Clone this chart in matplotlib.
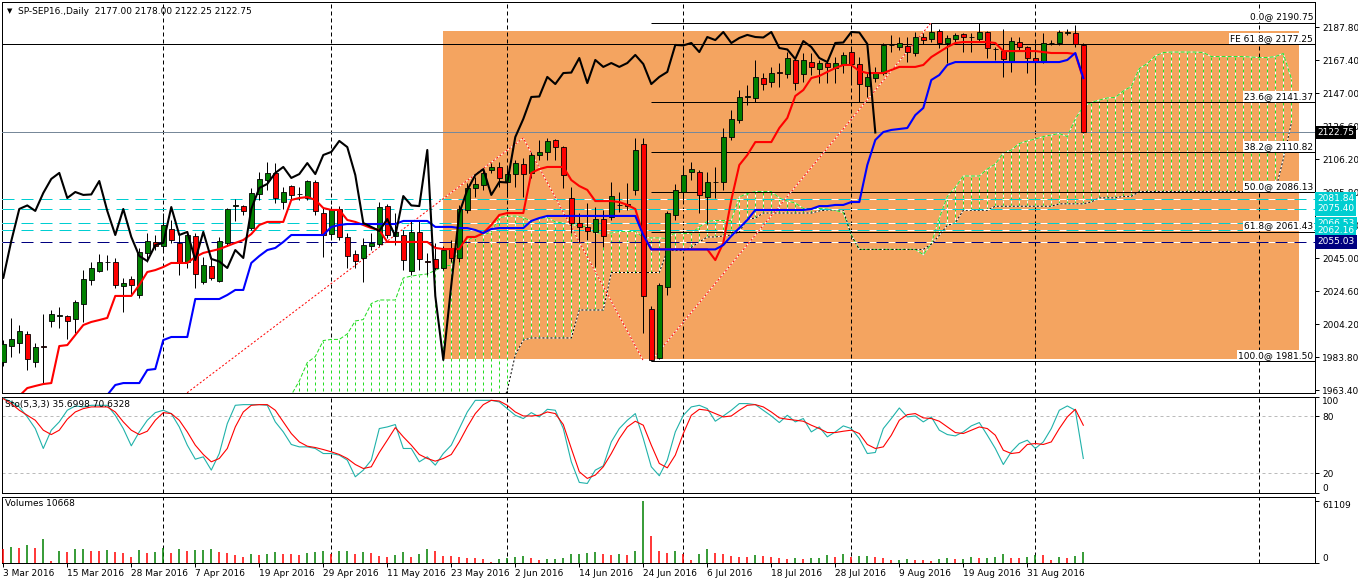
import numpy as np
import matplotlib.pyplot as plt
import matplotlib.transforms as mtransforms
from matplotlib.patches import Rectangle

plt.rcParams['font.family'] = ['DejaVu Sans']
plt.rcParams['font.size'] = 6.5

# ---------------- data ----------------
header = "SP-SEP16.,Daily  2177.00 2178.00 2122.25 2122.75"
stoch_title = "Sto(5,3,3) 35.6998 70.6328"
volume_title = "Volumes 10668"
date_labels = ["3 Mar 2016", "15 Mar 2016", "28 Mar 2016", "7 Apr 2016", "19 Apr 2016",
               "29 Apr 2016", "11 May 2016", "23 May 2016", "2 Jun 2016", "14 Jun 2016",
               "24 Jun 2016", "6 Jul 2016", "18 Jul 2016", "28 Jul 2016", "9 Aug 2016",
               "19 Aug 2016", "31 Aug 2016"]
date_label_bars = [0, 8, 16, 24, 32, 40, 48, 56, 64, 72, 80, 88, 96, 104, 112, 120, 128]
month_start_bars = [20, 41, 63, 85, 106, 129, 157]

opens = [1980.7, 1990.6, 1992.5, 1998.1, 1980.7, 1990.6, 2006.1, 2009.2, 2009.2, 2007.3,
         2016.6, 2031.5, 2037.0, 2042.6, 2042.6, 2027.8, 2032.1, 2022.2, 2048.2, 2055.0,
         2052.5, 2063.0, 2054.4, 2042.6, 2058.7, 2030.2, 2040.1, 2030.8, 2054.4, 2077.2,
         2077.2, 2063.6, 2084.7, 2093.3, 2097.7, 2079.7, 2089.6, 2084.7, 2082.2, 2092.1,
         2072.9, 2059.9, 2075.4, 2058.1, 2047.5, 2045.1, 2052.5, 2053.7, 2077.2, 2058.7,
         2059.3, 2037.0, 2061.2, 2043.2, 2044.5, 2038.9, 2051.3, 2045.1, 2074.8, 2088.4,
         2090.2, 2099.5, 2101.4, 2092.1, 2097.0, 2103.2, 2097.7, 2108.8, 2110.7, 2118.1,
         2113.7, 2082.2, 2066.7, 2064.3, 2061.2, 2069.2, 2070.4, 2077.9, 2078.5, 2087.1,
         2115.6, 2013.5, 1983.2, 2027.1, 2071.7, 2085.9, 2098.3, 2098.3, 2082.8, 2092.1,
         2092.1, 2119.9, 2130.5, 2144.7, 2144.1, 2156.4, 2154.0, 2160.2, 2158.9, 2167.6,
         2158.9, 2166.3, 2162.0, 2165.7, 2162.6, 2165.1, 2172.5, 2165.1, 2151.5, 2156.4,
         2159.5, 2176.9, 2175.6, 2176.2, 2171.9, 2181.8, 2180.6, 2185.5, 2178.1, 2180.6,
         2183.7, 2181.8, 2180.6, 2184.9, 2174.4, 2173.1, 2166.3, 2178.7, 2175.6, 2168.8,
         2166.3, 2178.1, 2178.1, 2184.3, 2184.3, 2177.0]
highs = [1994.3, 2008.0, 2003.6, 1999.9, 1992.5, 2010.4, 2012.9, 2014.8, 2009.8, 2019.1,
         2037.7, 2042.6, 2047.5, 2046.9, 2045.1, 2032.7, 2033.9, 2051.3, 2060.5, 2059.3,
         2072.9, 2068.6, 2060.5, 2060.5, 2060.5, 2045.7, 2045.7, 2058.1, 2076.0, 2081.6,
         2077.9, 2088.4, 2098.3, 2104.5, 2103.8, 2089.0, 2090.2, 2089.0, 2093.3, 2093.3,
         2076.0, 2077.2, 2077.2, 2060.5, 2050.0, 2057.5, 2060.5, 2079.7, 2078.5, 2072.9,
         2062.4, 2068.6, 2068.6, 2048.2, 2054.4, 2052.5, 2056.2, 2077.9, 2091.5, 2095.2,
         2099.5, 2103.8, 2104.5, 2100.8, 2105.7, 2107.0, 2110.7, 2118.1, 2119.3, 2118.7,
         2114.4, 2089.0, 2072.9, 2079.1, 2076.6, 2074.8, 2092.1, 2085.9, 2091.5, 2119.3,
         2119.3, 2015.4, 2029.6, 2074.2, 2090.9, 2101.4, 2104.5, 2099.5, 2098.3, 2101.4,
         2125.5, 2136.6, 2149.0, 2152.1, 2167.6, 2159.5, 2163.3, 2165.7, 2172.5, 2169.4,
         2171.9, 2171.9, 2167.6, 2167.6, 2169.4, 2172.5, 2175.6, 2169.4, 2160.2, 2163.3,
         2178.1, 2183.1, 2181.8, 2181.8, 2184.9, 2184.3, 2190.75, 2186.8, 2183.1, 2184.3,
         2184.3, 2184.3, 2190.5, 2185.5, 2175.6, 2186.8, 2181.8, 2181.8, 2176.2, 2178.1,
         2184.3, 2180.0, 2186.1, 2186.8, 2189.2, 2178.0]
lows = [1978.3, 1983.8, 1986.3, 1975.8, 1977.6, 1967.7, 2002.4, 2001.8, 1995.0, 1998.7,
        2005.5, 2028.4, 2036.4, 2037.7, 2026.5, 2011.7, 2022.2, 2020.3, 2042.6, 2050.0,
        2050.0, 2054.4, 2034.6, 2038.9, 2026.5, 2029.0, 2031.5, 2030.2, 2052.5, 2068.0,
        2071.7, 2062.4, 2081.0, 2087.2, 2079.1, 2075.4, 2081.0, 2081.0, 2081.0, 2071.7,
        2045.7, 2056.2, 2056.2, 2038.9, 2038.9, 2030.2, 2050.0, 2052.5, 2057.5, 2053.1,
        2037.7, 2034.6, 2037.7, 2034.6, 2037.7, 2037.7, 2042.6, 2042.6, 2072.9, 2082.8,
        2087.2, 2097.7, 2089.0, 2082.8, 2089.0, 2082.8, 2094.6, 2105.7, 2105.7, 2105.7,
        2088.4, 2060.5, 2055.0, 2056.2, 2039.5, 2051.9, 2068.6, 2073.5, 2074.8, 2084.1,
        1998.7, 1981.5, 1982.6, 2022.2, 2068.6, 2081.0, 2093.3, 2072.9, 2066.1, 2082.2,
        2087.2, 2118.1, 2128.6, 2139.7, 2141.6, 2149.0, 2150.9, 2150.9, 2156.4, 2149.0,
        2154.0, 2158.3, 2153.4, 2153.4, 2153.4, 2159.5, 2153.4, 2141.6, 2144.7, 2154.0,
        2158.3, 2172.5, 2173.8, 2166.3, 2170.1, 2177.5, 2178.7, 2175.0, 2165.7, 2178.1,
        2172.5, 2172.5, 2178.7, 2168.8, 2167.6, 2157.1, 2160.2, 2173.8, 2159.5, 2154.0,
        2165.7, 2176.9, 2176.9, 2183.1, 2175.6, 2122.25]
closes = [1991.9, 1995.0, 1999.9, 1982.6, 1990.0, 1990.3, 2010.4, 2009.5, 2006.1, 2017.9,
          2032.1, 2038.9, 2042.6, 2042.9, 2028.4, 2029.6, 2028.4, 2048.8, 2055.6, 2052.5,
          2065.5, 2056.2, 2042.0, 2059.3, 2035.2, 2040.7, 2032.7, 2055.6, 2075.4, 2077.6,
          2074.2, 2085.3, 2094.0, 2097.7, 2082.2, 2085.9, 2084.1, 2084.4, 2092.7, 2074.2,
          2059.3, 2075.4, 2058.1, 2046.3, 2043.2, 2053.1, 2054.4, 2076.6, 2059.3, 2061.2,
          2043.8, 2061.2, 2044.5, 2042.9, 2038.9, 2050.0, 2045.1, 2075.4, 2088.4, 2090.9,
          2097.7, 2101.4, 2094.6, 2097.0, 2103.8, 2097.0, 2108.8, 2110.7, 2117.5, 2113.7,
          2096.4, 2066.7, 2064.3, 2061.8, 2069.2, 2058.7, 2083.4, 2077.6, 2077.2, 2111.9,
          2021.6, 1982.0, 2028.4, 2072.9, 2087.2, 2096.4, 2100.1, 2084.1, 2092.1, 2091.8,
          2119.9, 2131.1, 2144.7, 2145.0, 2157.1, 2152.7, 2159.5, 2159.8, 2168.8, 2153.3,
          2167.6, 2163.3, 2165.7, 2163.3, 2165.7, 2170.7, 2165.1, 2152.7, 2157.1, 2160.2,
          2176.9, 2176.6, 2178.1, 2172.5, 2181.8, 2179.9, 2184.9, 2178.1, 2181.2, 2183.1,
          2181.8, 2181.5, 2184.9, 2175.0, 2174.1, 2168.2, 2179.3, 2175.6, 2168.8, 2166.3,
          2178.1, 2178.4, 2184.9, 2184.6, 2177.5, 2122.75]

tenkan = [1955.4, 1957.2, 1959.7, 1964.6, 1965.9, 1967.1, 1967.7, 1990.6, 1991.2, 1997.4,
          2003.6, 2005.5, 2006.7, 2008.0, 2021.6, 2021.6, 2021.6, 2028.4, 2036.4, 2037.6,
          2039.5, 2042.0, 2042.0, 2042.0, 2045.7, 2048.2, 2049.4, 2050.6, 2052.5, 2054.4,
          2056.2, 2059.9, 2065.5, 2067.4, 2067.4, 2067.4, 2081.0, 2082.2, 2082.8, 2081.0,
          2076.0, 2074.8, 2074.8, 2068.6, 2067.4, 2065.5, 2063.6, 2062.4, 2055.0, 2055.0,
          2055.0, 2055.0, 2055.0, 2055.0, 2051.3, 2050.6, 2050.6, 2050.6, 2058.1, 2058.1,
          2060.5, 2065.5, 2071.7, 2072.9, 2072.9, 2072.9, 2097.7, 2100.1, 2101.4, 2101.4,
          2101.4, 2093.3, 2089.6, 2087.2, 2080.3, 2080.3, 2080.3, 2079.7, 2077.9, 2075.4,
          2059.3, 2050.4, 2050.4, 2050.4, 2050.4, 2050.4, 2050.4, 2050.4, 2050.4, 2043.8,
          2054.4, 2081.0, 2102.6, 2108.8, 2116.8, 2116.8, 2116.8, 2125.5, 2131.7, 2145.3,
          2149.0, 2156.4, 2157.7, 2160.2, 2162.6, 2164.5, 2164.5, 2160.8, 2159.5, 2159.5,
          2159.5, 2161.4, 2163.3, 2163.3, 2163.3, 2164.5, 2169.4, 2172.5, 2175.6, 2178.1,
          2178.7, 2178.7, 2178.7, 2178.7, 2178.1, 2173.1, 2173.1, 2173.1, 2173.1, 2173.1,
          2172.5, 2171.9, 2171.9, 2171.9, 2171.3, 2155.8]
kijun = [1901.5, 1902.8, 1904.6, 1904.6, 1904.6, 1905.2, 1909.0, 1913.9, 1913.9, 1915.8,
         1917.0, 1932.5, 1954.1, 1960.3, 1966.5, 1967.7, 1967.7, 1967.7, 1975.8, 1976.4,
         1994.3, 1996.2, 1996.2, 1996.2, 2019.7, 2019.7, 2019.7, 2019.7, 2022.2, 2025.3,
         2025.3, 2042.0, 2046.3, 2050.0, 2051.3, 2055.0, 2059.3, 2059.3, 2059.3, 2059.3,
         2059.3, 2064.3, 2065.5, 2066.1, 2066.1, 2066.1, 2066.1, 2066.1, 2066.1, 2066.1,
         2068.0, 2068.0, 2068.0, 2068.0, 2064.3, 2064.3, 2064.3, 2063.6, 2063.6, 2062.4,
         2060.5, 2063.0, 2063.6, 2063.6, 2063.6, 2063.6, 2068.0, 2069.8, 2071.1, 2071.1,
         2071.1, 2071.1, 2071.1, 2071.1, 2071.1, 2071.1, 2071.1, 2071.1, 2071.1, 2071.1,
         2059.3, 2050.4, 2050.4, 2050.4, 2050.4, 2050.4, 2050.4, 2050.4, 2050.4, 2050.4,
         2053.1, 2058.7, 2063.6, 2068.6, 2074.8, 2074.8, 2074.8, 2074.8, 2074.8, 2074.8,
         2074.8, 2075.4, 2077.2, 2077.2, 2077.9, 2077.9, 2079.7, 2079.7, 2102.6, 2118.1,
         2123.0, 2124.3, 2124.9, 2125.5, 2133.5, 2137.9, 2155.2, 2158.3, 2164.5, 2166.3,
         2166.3, 2166.3, 2166.3, 2166.3, 2166.3, 2166.3, 2166.3, 2166.3, 2166.3, 2166.3,
         2166.3, 2166.3, 2166.3, 2167.6, 2171.9, 2156.4]

# senkou spans, first value at bar 30, last at bar 161 (26 bars ahead)
span_first_bar = 30
span_a = [1935.3, 1936.2, 1938.3, 1952.3, 1952.6, 1956.6, 1960.3, 1969.0, 1980.4, 1984.1,
          1994.0, 1994.7, 1994.7, 1998.1, 2006.1, 2007.0, 2016.9, 2019.1, 2019.1, 2019.1,
          2032.7, 2033.9, 2034.6, 2035.2, 2037.4, 2039.8, 2040.7, 2051.0, 2055.9, 2058.7,
          2059.3, 2061.2, 2070.1, 2070.8, 2071.1, 2070.1, 2067.7, 2069.5, 2070.1, 2067.4,
          2066.7, 2065.8, 2064.9, 2064.3, 2060.5, 2060.5, 2060.5, 2061.5, 2061.5, 2061.5,
          2057.8, 2057.5, 2057.5, 2057.1, 2060.9, 2060.2, 2060.5, 2064.3, 2067.7, 2068.3,
          2068.3, 2068.3, 2082.8, 2085.0, 2086.2, 2086.2, 2086.2, 2082.2, 2080.3, 2079.1,
          2075.7, 2075.7, 2075.7, 2075.4, 2074.5, 2073.2, 2059.3, 2050.4, 2050.4, 2050.4,
          2050.4, 2050.4, 2050.4, 2050.4, 2050.4, 2047.2, 2053.7, 2069.8, 2083.1, 2088.7,
          2095.8, 2095.8, 2095.8, 2100.1, 2103.2, 2110.0, 2111.9, 2115.9, 2117.5, 2118.7,
          2120.2, 2121.2, 2122.1, 2120.2, 2131.1, 2138.8, 2141.3, 2142.8, 2144.1, 2144.4,
          2148.4, 2151.2, 2162.3, 2165.4, 2170.1, 2172.2, 2172.5, 2172.5, 2172.5, 2172.5,
          2172.2, 2169.7, 2169.7, 2169.7, 2169.7, 2169.7, 2169.4, 2169.1, 2169.1, 2169.7,
          2171.6, 2156.1]
span_b = [1948.0, 1948.0, 1948.0, 1948.0, 1948.0, 1948.0, 1948.0, 1948.0, 1948.0, 1948.0,
          1948.0, 1948.0, 1948.0, 1948.0, 1948.0, 1948.0, 1948.0, 1948.0, 1948.0, 1948.0,
          1948.0, 1948.0, 1948.0, 1948.0, 1948.0, 1948.0, 1948.0, 1948.0, 1948.0, 1948.0,
          1948.0, 1948.0, 1950.0, 1963.4, 1985.1, 1994.3, 1995.6, 1995.6, 1995.6, 1995.6,
          1995.6, 1995.6, 2012.9, 2012.9, 2012.9, 2012.9, 2036.1, 2036.1, 2036.1, 2036.1,
          2036.1, 2036.1, 2036.1, 2049.7, 2049.7, 2049.7, 2051.6, 2055.0, 2058.1, 2058.1,
          2058.7, 2059.3, 2061.2, 2069.2, 2069.8, 2072.9, 2072.9, 2072.9, 2072.9, 2072.9,
          2072.9, 2072.9, 2074.2, 2074.8, 2074.8, 2074.8, 2059.0, 2050.4, 2050.4, 2050.4,
          2050.4, 2050.4, 2050.4, 2050.4, 2050.4, 2050.4, 2053.6, 2059.1, 2065.3, 2066.8,
          2074.6, 2074.6, 2074.6, 2074.6, 2077.1, 2077.1, 2077.1, 2077.1, 2077.1, 2077.1,
          2077.1, 2077.1, 2078.6, 2078.6, 2078.6, 2078.6, 2079.8, 2082.3, 2082.3, 2082.3,
          2083.2, 2083.2, 2086.2, 2086.2, 2086.2, 2086.2, 2086.2, 2086.2, 2086.2, 2086.2,
          2086.2, 2086.2, 2086.2, 2086.2, 2086.2, 2086.2, 2086.2, 2086.2, 2086.2, 2086.6,
          2106.4, 2128.4]

stoch_main = [99.2, 95.0, 89.8, 79.3, 67.1, 46.2, 65.4, 74.1, 86.3, 90.8,
              89.8, 91.5, 91.5, 91.5, 81.0, 67.1, 49.0, 63.6, 75.8, 83.8,
              86.3, 82.8, 68.8, 49.7, 35.0, 37.4, 23.5, 40.9, 72.3, 91.5,
              92.2, 92.2, 92.2, 91.5, 74.1, 63.6, 50.4, 47.9, 47.9, 46.2,
              40.9, 40.9, 39.2, 34.0, 16.5, 23.5, 34.0, 67.1, 68.8, 71.3,
              46.2, 46.2, 32.2, 37.4, 28.7, 40.9, 49.7, 67.1, 84.5, 96.7,
              96.7, 96.7, 95.0, 88.0, 81.0, 77.6, 83.8, 79.3, 87.3, 86.3,
              67.1, 32.2, 10.6, 9.5, 23.5, 28.0, 53.1, 67.1, 75.8, 82.8,
              56.6, 27.0, 17.6, 34.0, 63.6, 81.0, 89.8, 91.5, 88.0, 74.8,
              80.3, 86.3, 93.3, 93.3, 92.2, 86.3, 80.3, 73.4, 81.0, 74.1,
              77.6, 63.6, 68.8, 58.4, 63.6, 69.9, 67.1, 56.6, 40.9, 42.0,
              67.1, 77.6, 88.7, 79.3, 80.3, 74.1, 79.3, 65.4, 60.8, 59.4,
              63.6, 69.9, 73.4, 60.1, 46.2, 29.4, 42.7, 51.4, 54.9, 46.2,
              53.1, 67.1, 86.3, 90.8, 86.3, 35.7]
stoch_signal = [98.5, 93.3, 86.3, 81.0, 75.8, 65.4, 60.8, 65.4, 76.9, 84.5,
                88.0, 89.8, 89.8, 89.8, 84.5, 74.1, 65.4, 60.8, 64.3, 75.8,
                83.8, 82.8, 75.8, 63.6, 49.7, 39.9, 32.2, 35.7, 46.2, 68.8,
                84.5, 91.5, 92.2, 92.2, 86.3, 74.1, 61.9, 53.1, 48.6, 47.2,
                45.1, 42.7, 39.9, 35.7, 29.4, 25.2, 27.0, 42.0, 54.9, 68.1,
                58.4, 49.7, 39.9, 35.7, 32.9, 35.7, 39.9, 53.1, 68.8, 82.8,
                92.2, 96.7, 96.0, 91.5, 84.5, 80.3, 80.3, 81.0, 84.5, 82.8,
                71.3, 46.2, 21.8, 14.8, 18.3, 27.0, 40.9, 56.6, 68.8, 74.8,
                70.6, 49.7, 30.5, 25.9, 39.2, 61.9, 81.0, 87.3, 86.3, 82.8,
                79.3, 80.3, 86.3, 91.5, 92.2, 89.8, 84.5, 78.3, 76.9, 75.8,
                74.8, 70.6, 67.1, 62.9, 62.9, 64.3, 65.4, 61.9, 50.4, 46.2,
                47.9, 60.1, 75.8, 81.7, 82.8, 78.3, 77.6, 74.8, 68.8, 62.9,
                61.9, 65.4, 68.8, 67.1, 60.1, 44.4, 40.9, 42.0, 50.4, 51.4,
                50.4, 53.1, 67.1, 79.3, 87.3, 70.6]
volumes = [14061, 15696, 15042, 17985, 15042, 23871, 2289, 12099, 11118, 14061,
           14200, 12099, 11900, 13080, 11118, 10137, 6213, 13080, 10137, 11118,
           15042, 10137, 14061, 12099, 13080, 13300, 14061, 11118, 10137, 8175,
           6213, 9156, 8175, 9156, 11118, 9156, 8829, 8175, 10137, 11118,
           12099, 9156, 12099, 12300, 9156, 11118, 10137, 7194, 6213, 8175,
           11118, 6213, 9156, 14061, 12099, 7194, 6867, 5559, 5232, 4905,
           4251, 1308, 4251, 5232, 6213, 7194, 5232, 3270, 3597, 4251,
           5232, 9156, 9156, 10137, 11118, 9156, 8175, 9156, 8175, 12099,
           61109, 26487, 12099, 10137, 12099, 9156, 3270, 9156, 14061, 10137,
           9156, 7194, 6213, 5886, 8175, 7194, 6213, 5232, 4251, 5232,
           4251, 5232, 5232, 8175, 6213, 9156, 6213, 7194, 7194, 6213,
           5232, 3270, 3270, 4251, 3270, 2943, 2289, 4251, 5232, 4251,
           4251, 6213, 5232, 5232, 6213, 9156, 5232, 4905, 6213, 8175,
           7848, 3270, 6213, 5232, 7194, 10668]

# objects drawn on the chart
price_ticks = [2187.80, 2167.40, 2147.00, 2126.60, 2106.20, 2085.80,
               2065.40, 2045.00, 2024.60, 2004.20, 1983.80, 1963.40]
last_price = 2122.75
fe_level_price = 2177.25
cyan_levels = [2081.84, 2075.40, 2066.53, 2062.16]
navy_level = 2055.03
fib_names = ["0.0", "23.6", "38.2", "50.0", "61.8", "100.0"]
fib_prices = [2190.75, 2141.37, 2110.82, 2086.13, 2061.43, 1981.50]
fib_start_bar = 81
fib_diag_bars = [81, 116]
fib_diag_prices = [1981.50, 2190.75]
fe_bars = [-19.6, 65, 80]
fe_prices = [1802.0, 2119.3, 1981.5]
box_bars = [55, 162]
box_prices = [1982.3, 2185.5]

# ---------------- figure ----------------
W, H = 1358, 584
fig = plt.figure(figsize=(W / 100, H / 100), dpi=100)


def frame(x0, y0, x1, y1):
    return [x0 / W, 1 - y1 / H, (x1 - x0) / W, (y1 - y0) / H]


ax = fig.add_axes(frame(2, 2, 1315, 393))
ax_st = fig.add_axes(frame(2, 397, 1315, 493))
ax_v = fig.add_axes(frame(2, 497, 1315, 563))

PX = 0.72
XMIN, XMAX = -0.16, 163.96
n = len(closes)
x = np.arange(n)
o = np.array(opens); h = np.array(highs); l = np.array(lows); c = np.array(closes)

for a in (ax, ax_st, ax_v):
    a.set_xlim(XMIN, XMAX)
    for s in a.spines.values():
        s.set_linewidth(PX)
        s.set_color('black')
    for m in month_start_bars:
        a.axvline(m, color='black', lw=PX, dashes=(4, 3), zorder=1.5)

ax.set_ylim(1961.55, 2203.46)
ax_st.set_ylim(-0.5, 100.2)
ax_v.set_ylim(0, 65050)

# background rectangle
ax.add_patch(Rectangle((box_bars[0], box_prices[0]), box_bars[1] - box_bars[0],
                       box_prices[1] - box_prices[0], fc='#F4A460', ec='none', zorder=0.5))

# ichimoku cloud
sx = np.arange(span_first_bar, span_first_bar + len(span_a))
sa = np.array(span_a); sb = np.array(span_b)
lo = np.minimum(sa, sb); hi = np.maximum(sa, sb)
up = sa >= sb
ax.vlines(sx, lo, hi, colors='white', lw=PX, zorder=2)
ax.vlines(sx[up], lo[up], hi[up], colors='#22DD22', lw=PX, linestyles=[(0, (3, 3))], zorder=2.1)
ax.vlines(sx[~up], lo[~up], hi[~up], colors='#999999', lw=PX, linestyles=[(0, (3, 3))], zorder=2.1)
ax.plot(sx, sa, color='white', lw=PX, zorder=2.2)
ax.plot(sx, sa, color='#22DD22', lw=PX, dashes=(4, 2), zorder=2.3)
ax.plot(sx, sb, color='white', lw=PX, zorder=2.2)
ax.plot(sx, sb, color='black', lw=PX, dashes=(2, 2), zorder=2.3)

# horizontal levels
for p in cyan_levels:
    ax.axhline(p, color='white', lw=PX, zorder=3)
    ax.axhline(p, color='#00CED1', lw=PX, dashes=(12, 7), zorder=3.1)
ax.axhline(navy_level, color='white', lw=PX, zorder=3)
ax.axhline(navy_level, color='#000080', lw=PX, dashes=(12, 7), zorder=3.1)
ax.axhline(fe_level_price, color='black', lw=PX, zorder=3.2)
ax.axhline(last_price, color='#778899', lw=PX, zorder=3.2)
ax.hlines(fib_prices, fib_start_bar, XMAX, color='black', lw=PX, zorder=3.2)

# fibo / expansion diagonals
for bx_, py_ in ((fe_bars, fe_prices), (fib_diag_bars, fib_diag_prices)):
    ax.plot(bx_, py_, color='white', lw=PX, zorder=3.3)
    ax.plot(bx_, py_, color='red', lw=PX, dashes=(2, 2), zorder=3.4)

# candles
ax.vlines(x, l, h, colors='black', lw=PX, zorder=6)
body_col = np.where(c >= o, '#008000', '#FF0000')
ax.bar(x, np.abs(c - o), bottom=np.minimum(o, c), width=0.6, color=body_col,
       edgecolor='black', linewidth=0.6, zorder=6.5)

# ichimoku lines
ax.plot(x, tenkan, color='red', lw=1.5, zorder=7)
ax.plot(x, kijun, color='blue', lw=1.5, zorder=7.1)
ax.plot(x - 26, closes, color='black', lw=1.5, zorder=7.2)

# fib labels
tr = mtransforms.blended_transform_factory(ax.transAxes, ax.transData)
lab_x = 1 - 2 / 1313
for name, p in zip(fib_names, fib_prices):
    ax.text(lab_x, p + 0.6, f"{name}@ {p:.2f}", transform=tr, ha='right', va='bottom',
            fontsize=6.5, zorder=8,
            bbox=dict(boxstyle='square,pad=0.1', fc='white', ec='none'))
ax.text(lab_x, fe_level_price + 0.6, f"FE 61.8@ {fe_level_price:.2f}", transform=tr,
        ha='right', va='bottom', fontsize=6.5, zorder=8,
        bbox=dict(boxstyle='square,pad=0.1', fc='white', ec='none'))

# axes ticks
ax.yaxis.tick_right()
ax.set_yticks(price_ticks, labels=[f"{p:.2f}" for p in price_ticks])
ax.set_xticks([])
ax.tick_params(axis='y', direction='out', length=3, width=PX, pad=2, labelsize=6.5)

# right-hand price tags
tag_x = 1 + 2 / 1313
tags = [(cyan_levels[0], '#00CED1'), (cyan_levels[1], '#00CED1'),
        (cyan_levels[2], '#00CED1'), (cyan_levels[3], '#00CED1'),
        (navy_level, '#000080'), (last_price, 'black')]
for p, fc in tags:
    ax.text(tag_x, p, f"{p:.2f}", transform=tr, ha='left', va='center', color='white',
            fontsize=6.5, zorder=20, clip_on=False,
            bbox=dict(boxstyle='square,pad=0.25', fc=fc, ec='none'))

# stochastic
ax_st.axhline(80, color='#BBBBBB', lw=PX, dashes=(3, 3))
ax_st.axhline(20, color='#BBBBBB', lw=PX, dashes=(3, 3))
ax_st.plot(x, stoch_main, color='#20B2AA', lw=0.8, zorder=3)
ax_st.plot(x, stoch_signal, color='red', lw=0.8, zorder=3.1)
ax_st.yaxis.tick_right()
ax_st.set_yticks([0, 20, 80, 100], labels=['0', '20', '80', '100'])
ax_st.set_xticks([])
ax_st.tick_params(axis='y', direction='out', length=3, width=PX, pad=2, labelsize=6.5)
st_ticks = ax_st.yaxis.get_major_ticks()
st_ticks[0].label2.set_va('bottom')
st_ticks[3].label2.set_va('top')

# volumes
vol = np.array(volumes)
vol_up = np.r_[False, vol[1:] >= vol[:-1]]
ax_v.vlines(x, 0, vol, colors=np.where(vol_up, '#008000', '#FF0000'), lw=1.1, zorder=3)
ax_v.yaxis.tick_right()
ax_v.set_yticks([0, vol.max()], labels=['0', f"{vol.max()}"])
ax_v.tick_params(axis='y', direction='out', length=3, width=PX, pad=2, labelsize=6.5)
v_ticks = ax_v.yaxis.get_major_ticks()
v_ticks[0].label2.set_va('bottom')
v_ticks[1].label2.set_va('top')
ax_v.set_xticks(date_label_bars, labels=date_labels)
ax_v.tick_params(axis='x', direction='out', length=3, width=PX, pad=1.5, labelsize=6.5)
for t in ax_v.get_xticklabels():
    t.set_ha('left')

# header texts
fig.text(7 / W, 1 - 11 / H, "\u25BC", fontsize=5, va='center', ha='left')
fig.text(18 / W, 1 - 11 / H, header, fontsize=6.5, va='center', ha='left')
fig.text(5 / W, 1 - 404 / H, stoch_title, fontsize=6.5, va='center', ha='left')
fig.text(5 / W, 1 - 504 / H, volume_title, fontsize=6.5, va='center', ha='left')

fig.savefig("out.png", dpi=100)
